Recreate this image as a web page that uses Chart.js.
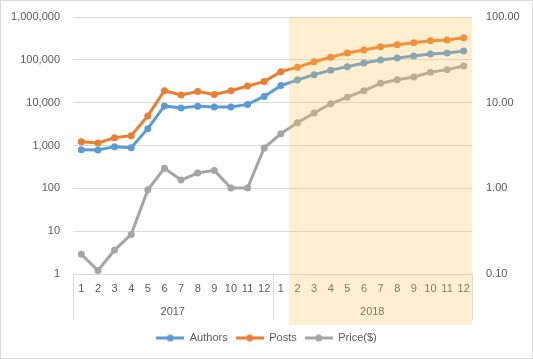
<!DOCTYPE html>
<html>
<head>
<meta charset="utf-8">
<script src="https://cdn.jsdelivr.net/npm/chart.js@4/dist/chart.umd.min.js"></script>
<style>
  html, body { margin: 0; padding: 0; background: #fff; }
  #wrap { width: 533px; height: 359px; position: relative; }
</style>
</head>
<body>
<div id="wrap"><canvas id="myChart" width="533" height="359"></canvas></div>
<script>
// data
let months = ['1','2','3','4','5','6','7','8','9','10','11','12','1','2','3','4','5','6','7','8','9','10','11','12']
let years = ['2017', '2018']
let monthsPerYear = 12
let shadeFrom = 13 // index where the shaded block begins (2018 month 2)

let authors = [800, 790, 940, 890, 2470, 8400, 7500, 8300, 7900, 7900, 9100, 14000,
  25000, 33800, 45000, 57500, 69000, 84000, 99000, 110000, 123000, 137000, 145000, 161000]
let posts = [1230, 1150, 1520, 1700, 4900, 19000, 15100, 18300, 15600, 19000, 24500, 31000,
  53000, 67000, 90000, 115000, 145000, 170000, 203000, 226000, 251000, 280000, 290000, 329000]
let price = [0.17, 0.11, 0.19, 0.29, 0.96, 1.71, 1.25, 1.51, 1.62, 1.01, 1.01, 2.96,
  4.33, 5.83, 7.57, 9.7, 11.6, 13.8, 16.8, 18.5, 19.9, 22.6, 24.3, 26.8]

let leftTicks = [1, 10, 100, 1000, 10000, 100000, 1000000]
let rightTicks = [0.1, 1, 10, 100]

let textColor = '#595959'
let gridColor = '#D9D9D9'

Chart.defaults.font.family = "'Liberation Sans', Arial, sans-serif"
Chart.defaults.font.size = 11
Chart.defaults.color = textColor

// legend swatch: short line with a dot in the middle, like excel
function swatch(color) {
  let c = document.createElement('canvas')
  c.width = 28
  c.height = 9
  let g = c.getContext('2d')
  g.strokeStyle = color
  g.lineWidth = 3
  g.beginPath()
  g.moveTo(0, 4.5)
  g.lineTo(28, 4.5)
  g.stroke()
  g.fillStyle = color
  g.beginPath()
  g.arc(14, 4.5, 3.5, 0, Math.PI * 2)
  g.fill()
  return c
}

let frame = {
  id: 'frame',
  beforeDraw(chart) {
    let ctx = chart.ctx
    ctx.save()
    ctx.strokeStyle = gridColor
    ctx.lineWidth = 1
    ctx.strokeRect(0.5, 0.5, chart.width - 1, chart.height - 1)
    ctx.restore()
  }
}

// year row + separators under the month labels, then the shaded 2018 block
let groups = {
  id: 'groups',
  afterDraw(chart) {
    let ctx = chart.ctx
    let x = chart.scales.x
    let area = chart.chartArea
    let step = x.getPixelForValue(1) - x.getPixelForValue(0)
    let bottom = 320
    ctx.save()
    ctx.strokeStyle = gridColor
    ctx.lineWidth = 1
    for (let i = 0; i <= years.length; i++) {
      let px = Math.round(x.getPixelForValue(i * monthsPerYear) - step / 2) + 0.5
      ctx.beginPath()
      ctx.moveTo(px, area.bottom)
      ctx.lineTo(px, bottom)
      ctx.stroke()
    }
    ctx.fillStyle = textColor
    ctx.textAlign = 'center'
    ctx.textBaseline = 'middle'
    years.forEach((y, i) => {
      let a = x.getPixelForValue(i * monthsPerYear)
      let b = x.getPixelForValue(i * monthsPerYear + monthsPerYear - 1)
      ctx.fillText(y, (a + b) / 2, 312)
    })
    // shaded block drawn over everything
    let sx = x.getPixelForValue(shadeFrom) - step / 2
    ctx.fillStyle = 'rgba(255, 196, 90, 0.28)'
    ctx.fillRect(sx, area.top, area.right - sx, 325 - area.top)
    ctx.restore()
  }
}

let ctx = document.getElementById('myChart').getContext('2d')
let myChart = new Chart(ctx, {
  type: 'line',
  data: {
    labels: months,
    datasets: [{
      label: 'Authors',
      data: authors,
      yAxisID: 'y',
      borderColor: '#5B9BD5',
      backgroundColor: '#5B9BD5',
      borderWidth: 3,
      pointRadius: 3.5,
      pointBorderWidth: 0,
      _swatch: swatch('#5B9BD5')
    },
    {
      label: 'Posts',
      data: posts,
      yAxisID: 'y',
      borderColor: '#ED7D31',
      backgroundColor: '#ED7D31',
      borderWidth: 3,
      pointRadius: 3.5,
      pointBorderWidth: 0,
      _swatch: swatch('#ED7D31')
    },
    {
      label: 'Price($)',
      data: price,
      yAxisID: 'y1',
      borderColor: '#A5A5A5',
      backgroundColor: '#A5A5A5',
      borderWidth: 3,
      pointRadius: 3.5,
      pointBorderWidth: 0,
      _swatch: swatch('#A5A5A5')
    }]
  },
  options: {
    responsive: false,
    animation: false,
    layout: { padding: { top: 17, left: 0, right: 0, bottom: 5.5 } },
    plugins: {
      tooltip: { enabled: false },
      legend: {
        position: 'bottom',
        labels: {
          usePointStyle: true,
          pointStyleWidth: 28,
          padding: 8,
          color: textColor,
          font: { size: 11 },
          generateLabels(chart) {
            let items = Chart.defaults.plugins.legend.labels.generateLabels(chart)
            items.forEach(it => { it.pointStyle = chart.data.datasets[it.datasetIndex]._swatch })
            return items
          }
        }
      }
    },
    scales: {
      x: {
        type: 'category',
        offset: true,
        grid: { display: false, drawTicks: false },
        border: { display: true, color: gridColor },
        ticks: { autoSkip: false, maxRotation: 0, padding: 8, color: textColor },
        afterFit(scale) { scale.height = 50.5 }
      },
      y: {
        type: 'logarithmic',
        position: 'left',
        min: 1,
        max: 1000000,
        grid: { color: gridColor, drawTicks: false },
        border: { display: false },
        ticks: {
          padding: 13,
          color: textColor,
          callback: v => Number(v).toLocaleString('en-US')
        },
        afterBuildTicks(scale) { scale.ticks = leftTicks.map(v => ({ value: v })) },
        afterFit(scale) { scale.width = 73; scale.paddingTop = 0; scale.paddingBottom = 0 }
      },
      y1: {
        type: 'logarithmic',
        position: 'right',
        min: 0.1,
        max: 100,
        grid: { display: false, drawTicks: false },
        border: { display: false },
        ticks: {
          padding: 14,
          color: textColor,
          callback: v => Number(v).toFixed(2)
        },
        afterBuildTicks(scale) { scale.ticks = rightTicks.map(v => ({ value: v })) },
        afterFit(scale) { scale.width = 61; scale.paddingTop = 0; scale.paddingBottom = 0 }
      }
    }
  },
  plugins: [frame, groups]
})
</script>
</body>
</html>
